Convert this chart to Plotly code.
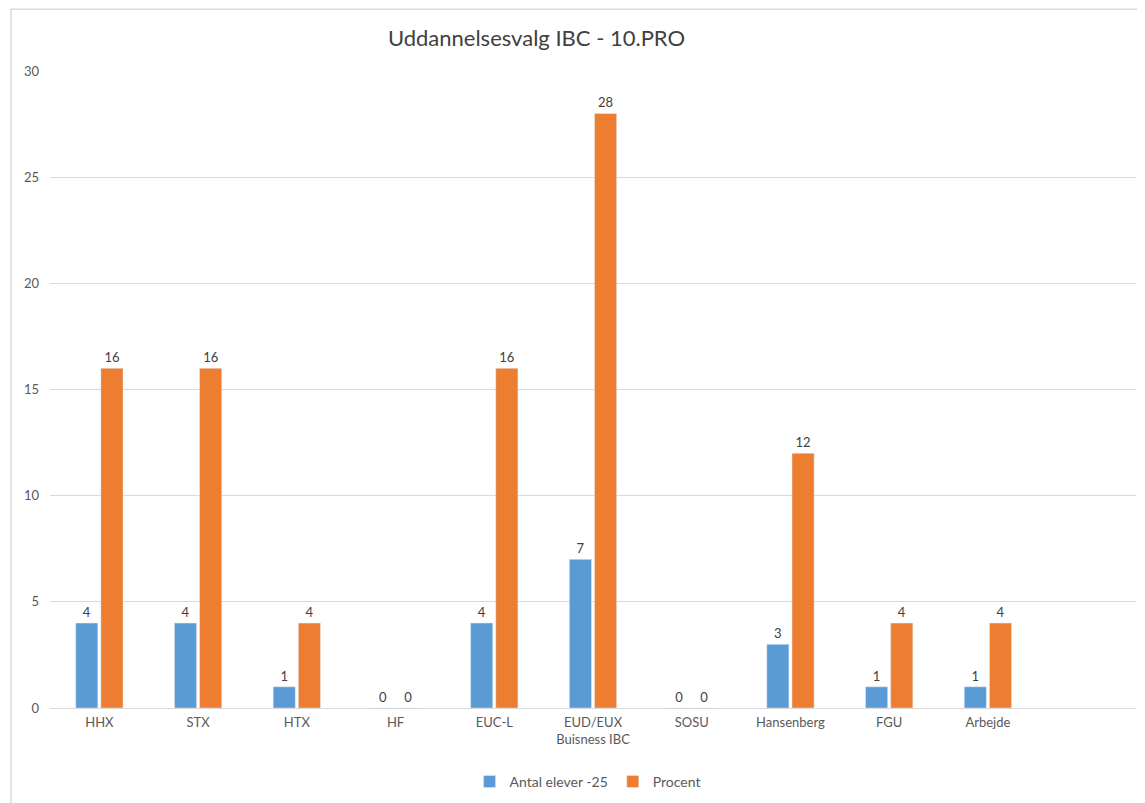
import plotly.graph_objects as go

categories = ["HHX", "STX", "HTX", "HF", "EUC-L", "EUD/EUX<br>Buisness IBC", "SOSU", "Hansenberg", "FGU", "Arbejde", " "]
antal = [4, 4, 1, 0, 4, 7, 0, 3, 1, 1, None]
procent = [16, 16, 4, 0, 16, 28, 0, 12, 4, 4, None]
y_ticks = [0, 5, 10, 15, 20, 25, 30]

FONT = "Lato, 'Open Sans', sans-serif"
BLUE = "#5B9BD5"
ORANGE = "#ED7D31"

fig = go.Figure()
fig.add_trace(go.Bar(
    x=categories, y=antal, name="Antal elever -25",
    marker=dict(color=BLUE),
    text=[("" if v is None else str(v)) for v in antal],
    textposition="outside", cliponaxis=False,
    textfont=dict(size=13, color="#404040", family=FONT),
))
fig.add_trace(go.Bar(
    x=categories, y=procent, name="Procent",
    marker=dict(color=ORANGE),
    text=[("" if v is None else str(v)) for v in procent],
    textposition="outside", cliponaxis=False,
    textfont=dict(size=13, color="#404040", family=FONT),
))

fig.update_layout(
    width=1129, height=795,
    paper_bgcolor="white", plot_bgcolor="white",
    margin=dict(l=42, r=1, t=63, b=95),
    barmode="group", bargap=0.49, bargroupgap=0.12,
    font=dict(family=FONT, color="#595959", size=13),
    title=dict(text="Uddannelsesvalg IBC - 10.PRO", x=0.448, xref="paper", xanchor="center",
               y=0.962, yanchor="middle",
               font=dict(size=22, color="#404040", family=FONT)),
    legend=dict(orientation="h", x=0.495, xanchor="center", y=-0.116, yanchor="middle",
                font=dict(size=14, color="#595959", family=FONT),
                itemwidth=30, traceorder="normal"),
    shapes=[dict(type="rect", xref="paper", yref="paper",
                 x0=-0.0359, x1=1.2, y0=-0.3, y1=1.097,
                 line=dict(color="#D9D9D9", width=1.5), layer="below")],
)
fig.update_xaxes(range=[-0.5, 10.5], showgrid=False, showline=False,
                 ticks="", ticklabelstandoff=5, tickfont=dict(size=13, color="#595959"))
fig.update_yaxes(range=[0, 30], tickvals=y_ticks, showgrid=True, gridcolor="#D9D9D9",
                 gridwidth=1, zeroline=True, zerolinecolor="#D9D9D9", zerolinewidth=1,
                 showline=False, ticks="", ticklabelstandoff=10,
                 tickfont=dict(size=13, color="#595959"))

fig.write_html("out.html")
